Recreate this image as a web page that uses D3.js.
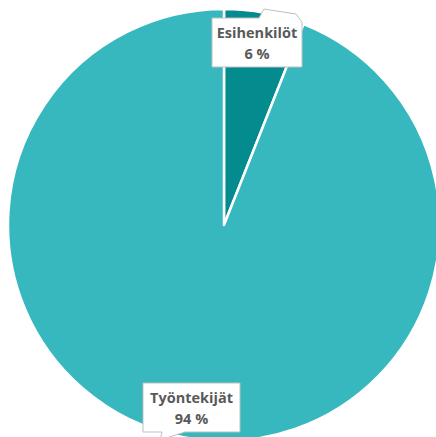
<!DOCTYPE html>
<html><head><meta charset="utf-8">
<script src="https://cdn.jsdelivr.net/npm/d3@7"></script>
<style>body{margin:0;background:#fff}svg{display:block}</style>
</head><body>
<svg id="c" width="436" height="437"></svg>
<script>
const categories = ["Esihenkilöt", "Työntekijät"];
const values = [6, 94];
const labels = ["6 %", "94 %"];
const colors = ["#038B8E", "#36B8BE"];

const svg = d3.select("#c");
const cx = 224, cy = 225, r = 216;
const g = svg.append("g").attr("transform", `translate(${cx},${cy})`);
const pie = d3.pie().sort(null)(values);
const arc = d3.arc().innerRadius(0).outerRadius(r);
g.selectAll("path").data(pie).join("path")
  .attr("d", arc).attr("fill", (d,i)=>colors[i])
  .attr("stroke", "#fff").attr("stroke-width", 2.5).attr("stroke-linejoin","round");

// callout labels
const boxes = [
  {x:212, y:18, w:90, h:49},
  {x:143, y:383, w:97, h:49}
];
boxes.forEach((b,i)=>{
  let pts;
  if (i===0) {
    pts = [[b.x,b.y],[259,b.y],[264,9],[296,14],[b.x+b.w,22],[b.x+b.w,b.y+b.h],[b.x,b.y+b.h]];
  } else {
    pts = [[b.x,b.y],[b.x+b.w,b.y],[b.x+b.w,b.y+b.h],[185,b.y+b.h],[160,440],[162,b.y+b.h],[b.x,b.y+b.h]];
  }
  svg.append("path").attr("d", d3.line()(pts)+"Z")
    .attr("fill","#fff").attr("stroke","#BFBFBF").attr("stroke-width",1);
  const t = svg.append("text").attr("text-anchor","middle")
    .attr("font-family","'Open Sans', sans-serif").attr("font-weight","bold")
    .attr("font-size",14.5).attr("fill","#595959");
  t.append("tspan").attr("x", b.x+b.w/2).attr("y", b.y+20).text(categories[i]);
  t.append("tspan").attr("x", b.x+b.w/2).attr("y", b.y+41).text(labels[i]);
});
</script>
</body></html>
